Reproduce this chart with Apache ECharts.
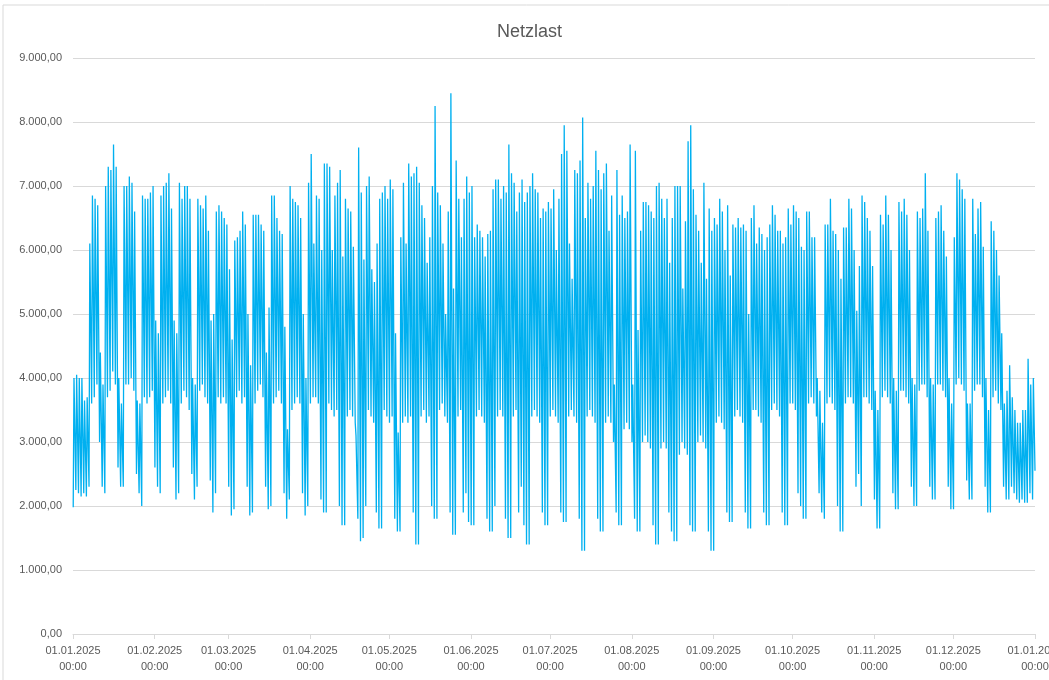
<!DOCTYPE html>
<html>
<head>
<meta charset="utf-8">
<title>Netzlast</title>
<script src="https://cdn.jsdelivr.net/npm/echarts@6/dist/echarts.min.js"></script>
<style>
  html, body { margin: 0; padding: 0; background: #fff; }
  #chart { width: 1049px; height: 680px; }
</style>
</head>
<body>
<div id="chart"></div>
<script>
// Tagesspitze je Tag, 01.01.2025 - 31.12.2025, eine Zeile = eine Woche (Mo-So)
var dailyPeak = [
    4000, 4050, 4000, 4000, 3650,                   // 01.01. (Mi-So)
    3700, 6100, 6850, 6800, 6700, 4400, 3900,       // 06.01.
    7000, 7300, 7250, 7650, 7300, 4000, 3600,       // 13.01.
    7000, 7000, 7150, 7050, 6600, 3650, 3600,       // 20.01.
    6850, 6800, 6800, 6900, 7000, 4900, 4700,       // 27.01.
    6850, 7000, 7050, 7200, 6650, 4900, 4700,       // 03.02.
    7050, 6800, 7000, 7000, 6800, 4000, 3900,       // 10.02.
    6800, 6700, 6650, 6850, 6300, 4900, 5000,       // 17.02.
    6600, 6700, 6600, 6500, 6400, 5700, 4600,       // 24.02.
    6150, 6200, 6300, 6600, 6400, 5000, 4200,       // 03.03.
    6550, 6550, 6550, 6400, 6300, 4400, 5100,       // 10.03.
    6850, 6850, 6500, 6300, 6250, 4800, 3200,       // 17.03.
    7000, 6800, 6750, 6700, 6500, 5000, 4000,       // 24.03.
    7050, 7500, 6100, 6850, 6800, 6000, 7350,       // 31.03.
    7350, 7300, 6000, 6850, 7050, 7250, 5900,       // 07.04.
    6800, 6650, 6600, 6050, 3100, 7600, 6900,       // 14.04.
    5850, 7000, 7150, 5700, 5500, 6100, 6800,       // 21.04.
    6900, 7000, 6800, 7100, 6950, 4700, 3150,       // 28.04.
    6200, 7050, 6100, 7350, 7150, 7200, 7300,       // 05.05.
    7050, 6700, 6500, 5800, 6200, 7000, 8250,       // 12.05.
    6900, 6700, 6100, 5000, 6600, 8450, 5400,       // 19.05.
    7400, 6800, 6200, 6800, 7150, 6900, 7000,       // 26.05.
    6200, 6400, 6300, 6200, 5900, 6250, 6300,       // 02.06.
    6950, 7100, 7100, 6800, 7000, 6900, 7650,       // 09.06.
    7200, 7050, 6600, 6900, 7100, 6750, 6900,       // 16.06.
    7000, 7200, 6950, 6900, 6500, 6650, 6600,       // 23.06.
    6750, 6650, 6950, 6000, 6800, 7500, 7950,       // 30.06.
    7550, 6100, 5550, 7250, 7200, 7400, 8070,       // 07.07.
    6500, 7050, 6800, 7000, 7550, 7250, 6950,       // 14.07.
    7200, 7350, 6300, 6850, 3900, 7250, 6550,       // 21.07.
    6850, 6500, 6600, 7650, 3900, 7550, 4750,       // 28.07.
    6300, 6750, 6750, 6700, 6600, 6500, 7000,       // 04.08.
    7050, 6800, 6500, 6800, 5800, 6500, 7000,       // 11.08.
    7000, 7000, 5400, 6450, 7700, 7950, 6950,       // 18.08.
    6550, 6300, 5800, 7050, 5550, 6650, 6300,       // 25.08.
    6500, 6400, 6800, 6600, 6000, 6700, 5600,       // 01.09.
    6400, 6350, 6500, 6350, 6400, 6300, 5000,       // 08.09.
    6500, 6700, 6100, 6350, 6250, 6000, 6200,       // 15.09.
    6400, 6700, 6550, 6300, 6300, 6100, 6200,       // 22.09.
    6650, 6400, 6700, 6600, 6500, 6050, 6000,       // 29.09.
    6600, 6600, 6200, 6200, 4000, 3800, 3300,       // 06.10.
    6400, 6400, 6800, 6300, 6250, 6000, 5550,       // 13.10.
    6350, 6350, 6800, 6650, 6000, 5050, 5750,       // 20.10.
    6850, 6750, 6500, 6300, 5750, 3800, 3500,       // 27.10.
    6550, 6400, 6850, 6550, 6000, 4000, 3800,       // 03.11.
    6750, 6600, 6800, 6550, 6000, 4000, 3900,       // 10.11.
    6600, 6500, 6650, 7200, 6300, 4000, 3900,       // 17.11.
    6500, 6600, 6700, 6300, 5900, 4000, 3600,       // 24.11.
    6200, 7200, 7100, 6950, 6800, 3600, 3600,       // 01.12.
    6800, 6250, 6650, 6750, 6050, 4000, 3500,       // 08.12.
    6450, 6300, 6000, 5600, 4700, 3600, 3800,       // 15.12.
    4200, 3700, 3500, 3300, 3300, 3500, 3500,       // 22.12.
    4300, 3900, 4000                                // 29.12. (Mo-Mi)
];

// Nachtminimum je Tag
var dailyLow = [
    1980, 2250, 2200, 2150, 2200,
    2150, 2300, 3600, 3700, 3900, 3000, 2300,
    2200, 3700, 3800, 4100, 3900, 2600, 2300,
    2300, 3900, 3900, 4000, 3800, 2500, 2200,
    2000, 3700, 3600, 3700, 3800, 2600, 2300,
    2200, 3600, 3700, 3800, 3600, 2600, 2100,
    2200, 3600, 3800, 3700, 3500, 2500, 2100,
    2300, 3800, 3900, 3700, 3600, 2400, 1900,
    2200, 3700, 3600, 3700, 3600, 2300, 1850,
    1950, 3700, 3800, 3600, 3700, 2300, 1850,
    1900, 3600, 3800, 3900, 3700, 2300, 1950,
    2000, 3600, 3700, 3800, 3600, 2200, 1800,
    2100, 3500, 3600, 3700, 3600, 2200, 1850,
    2000, 3600, 3700, 3700, 3600, 2100, 1900,
    1900, 3600, 3500, 3400, 3500, 2000, 1700,
    1700, 3400, 3500, 3400, 3300, 1800, 1450,
    1500, 2000, 3500, 3400, 3300, 1900, 1650,
    1650, 3500, 3400, 3300, 3400, 1800, 1600,
    1600, 3300, 3400, 3300, 3400, 1900, 1400,
    1400, 3400, 3500, 3300, 3400, 2000, 1800,
    1800, 3500, 3600, 3400, 3300, 1900, 1550,
    1550, 3400, 3500, 1900, 2200, 1750, 1700,
    1700, 3400, 3500, 3400, 3300, 1800, 1600,
    1600, 2000, 3400, 3500, 3400, 1800, 1500,
    1500, 3400, 3500, 1900, 2300, 1700, 1400,
    1400, 3400, 3500, 3400, 3300, 1900, 1700,
    1700, 3400, 3500, 3400, 3300, 1900, 1750,
    1750, 3400, 3500, 3400, 3300, 1800, 1300,
    1300, 3400, 3500, 3400, 3300, 1800, 1600,
    1600, 3300, 3400, 3300, 3000, 1900, 1700,
    1700, 3200, 3300, 3200, 3000, 1800, 1600,
    1600, 3000, 3100, 3000, 2900, 1700, 1400,
    1400, 2900, 3000, 2900, 1900, 1600, 1450,
    1450, 2800, 3000, 2900, 2800, 1700, 1600,
    1600, 3000, 3100, 3000, 2900, 1600, 1300,
    1300, 3300, 3400, 3300, 3200, 1900, 1750,
    1750, 3400, 3500, 3400, 3300, 1900, 1650,
    1650, 3500, 3500, 3400, 3300, 1900, 1700,
    1700, 3500, 3600, 3500, 3400, 1900, 1700,
    1700, 3600, 3600, 3500, 2200, 2000, 1800,
    1800, 3600, 3700, 3600, 3400, 2200, 1900,
    1800, 3600, 3700, 3600, 3500, 2000, 1600,
    1600, 3600, 3700, 3700, 3600, 2300, 2500,
    2000, 3700, 3700, 3600, 3500, 2100, 1650,
    1650, 3700, 3800, 3700, 3600, 2200, 1950,
    1950, 3800, 3800, 3700, 3600, 2300, 2000,
    2000, 3800, 3900, 3900, 3700, 2300, 2100,
    2100, 3900, 3900, 3800, 3700, 2300, 1950,
    1950, 3900, 4000, 3900, 3800, 2400, 2100,
    2100, 3800, 3900, 3900, 3700, 2300, 1900,
    1900, 3700, 3800, 3600, 3500, 2300, 2100,
    2100, 2300, 2200, 2100, 2050, 2100, 2050,
    2050, 2200, 2100
];

// Wert am 01.01.2026 00:00
var endValue = 2550;

// Achsbeschriftung: Monatsanfänge (Tag im Jahr)
var tickDays = [0, 31, 59, 90, 120, 151, 181, 212, 243, 273, 304, 334, 365];
var tickLabels = [
    '01.01.2025', '01.02.2025', '01.03.2025', '01.04.2025', '01.05.2025', '01.06.2025',
    '01.07.2025', '01.08.2025', '01.09.2025', '01.10.2025', '01.11.2025', '01.12.2025', '01.01.2026'
];

// Tagesverlauf: Nacht-Tief von 02:00 bis 06:00, Spitze von 09:00 bis 17:00
var NIGHT_FROM = 2 / 24, NIGHT_TO = 6 / 24, DAY_FROM = 9 / 24, DAY_TO = 17 / 24;

var lineData = [];
dailyPeak.forEach(function (peak, d) {
    lineData.push([d + NIGHT_FROM, dailyLow[d]]);
    lineData.push([d + NIGHT_TO, dailyLow[d]]);
    lineData.push([d + DAY_FROM, peak]);
    lineData.push([d + DAY_TO, peak]);
});
lineData.push([365, endValue]);

// deutsches Zahlenformat 9.000,00
function formatDe(v) {
    var s = Math.round(v).toString().replace(/\B(?=(\d{3})+(?!\d))/g, '.');
    return s + ',00';
}

var chart = echarts.init(document.getElementById('chart'), null, { renderer: 'canvas' });
var font = 'Liberation Sans, Arial, sans-serif';

chart.setOption({
    animation: false,
    backgroundColor: '#ffffff',
    title: {
        text: 'Netzlast',
        left: 492,
        top: 18,
        textStyle: { fontSize: 18, fontWeight: 'normal', color: '#595959', fontFamily: font }
    },
    graphic: [{
        type: 'rect',
        shape: { x: 3, y: 5, width: 1100, height: 700 },
        style: { fill: 'none', stroke: '#d9d9d9', lineWidth: 1 },
        silent: true
    }],
    grid: {
        left: 73, right: 14, top: 58, bottom: 46,
        containLabel: false,
        outerBoundsMode: 'none'
    },
    xAxis: {
        type: 'value',
        min: 0,
        max: 365,
        axisLine: { show: true, lineStyle: { color: '#d9d9d9', width: 1 } },
        axisTick: { show: true, customValues: tickDays, length: 5, lineStyle: { color: '#d9d9d9' } },
        splitLine: { show: false },
        axisLabel: {
            customValues: tickDays,
            margin: 9,
            color: '#595959',
            fontSize: 11,
            fontFamily: font,
            lineHeight: 16,
            showMinLabel: true,
            showMaxLabel: true,
            hideOverlap: false,
            formatter: function (v) {
                var i = tickDays.indexOf(Math.round(v));
                return i < 0 ? '' : tickLabels[i] + '\n00:00';
            }
        }
    },
    yAxis: {
        type: 'value',
        min: 0,
        max: 9000,
        interval: 1000,
        axisLine: { show: false },
        axisTick: { show: false },
        splitLine: { lineStyle: { color: '#d9d9d9', width: 1 } },
        axisLabel: {
            margin: 11,
            color: '#595959',
            fontSize: 11,
            fontFamily: font,
            formatter: formatDe
        }
    },
    series: [{
        name: 'Netzlast',
        type: 'line',
        data: lineData,
        showSymbol: false,
        sampling: false,
        lineStyle: { color: '#00b0f0', width: 1.3 },
        itemStyle: { color: '#00b0f0' }
    }]
});
</script>
</body>
</html>
